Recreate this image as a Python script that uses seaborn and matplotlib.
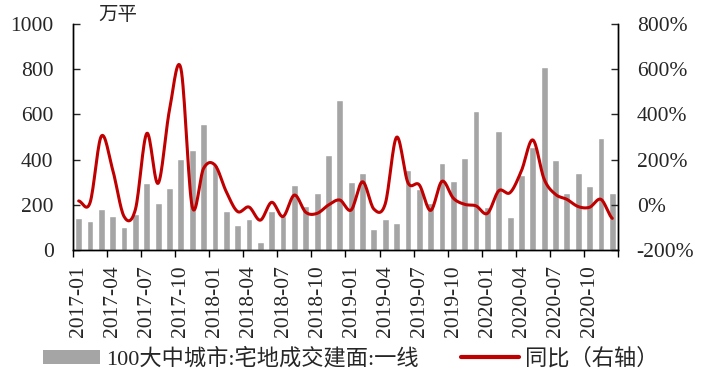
import numpy as np
import pandas as pd
import seaborn as sns
import matplotlib.pyplot as plt
from matplotlib.patches import Patch
from matplotlib.lines import Line2D
from matplotlib.ticker import FuncFormatter

sns.set_theme(style="ticks")
plt.rcParams['font.family'] = ['Liberation Serif', 'Noto Sans CJK SC', 'DejaVu Sans']
plt.rcParams['axes.unicode_minus'] = False

# 月份 2017-01 ~ 2020-12
months = [f"{y}-{m:02d}" for y in range(2017, 2021) for m in range(1, 13)]

# 100大中城市:宅地成交建面:一线 (万平)
area = [140, 128, 181, 150, 102, 158, 296, 208, 274, 403, 442, 557,
        375, 172, 111, 136, 34, 172, 150, 288, 195, 252, 420, 664,
        299, 339, 93, 137, 119, 353, 270, 208, 385, 304, 407, 615,
        190, 527, 145, 333, 457, 810, 398, 252, 341, 283, 496, 254]

# 同比 (%)
yoy = [17, 9, 304, 154, -52, -20, 316, 95, 420, 604, -8, 161,
       176, 58, -30, -10, -68, 11, -52, 43, -33, -38, -1, 21,
       -23, 102, -19, 4, 299, 98, 88, -25, 104, 29, 2, -5,
       -38, 62, 54, 151, 287, 113, 46, 24, -8, -11, 24, -60]

bar_label = '100大中城市:宅地成交建面:一线'
line_label = '同比（右轴）'
bar_color = '#A5A5A5'
line_color = '#C00000'


def smooth(y, n=16):
    # 平滑曲线（类似 Excel 的平滑线）
    y = np.asarray(y, float)
    p = np.concatenate([[y[0]], y, [y[-1]]])
    t = np.linspace(0, 1, n, endpoint=False)
    xs, ys = [], []
    for i in range(len(y) - 1):
        p0, p1, p2, p3 = p[i], p[i + 1], p[i + 2], p[i + 3]
        seg = 0.5 * (2 * p1 + (-p0 + p2) * t + (2 * p0 - 5 * p1 + 4 * p2 - p3) * t ** 2
                     + (-p0 + 3 * p1 - 3 * p2 + p3) * t ** 3)
        xs.append(i + t)
        ys.append(seg)
    xs.append([len(y) - 1])
    ys.append([y[-1]])
    return np.concatenate(xs), np.concatenate(ys)


df = pd.DataFrame({'month': months, 'area': area})

fig = plt.figure(figsize=(7.1, 3.84), dpi=100)
ax = fig.add_axes([0.1028, 0.349, 0.7676, 0.5885])

sns.barplot(data=df, x='month', y='area', color=bar_color, saturation=1,
            width=0.6, ax=ax)

ax2 = ax.twinx()
sx, sy = smooth(yoy)
sns.lineplot(x=sx, y=sy, ax=ax2, color=line_color, linewidth=2.2,
             sort=False, estimator=None)

ax.set_xlim(-0.5, len(months) - 0.5)
ax.set_ylim(0, 1000)
ax2.set_ylim(-200, 800)
ax.set_yticks(range(0, 1001, 200))
ax2.set_yticks(range(-200, 801, 200))
ax2.yaxis.set_major_formatter(FuncFormatter(lambda v, p: f'{v:.0f}%'))

ax.set_xticks(range(0, len(months), 3))
ax.set_xticklabels(months[::3], rotation=90)
ax.set_xticks(np.arange(-0.5, len(months), 3), minor=True)
ax.tick_params(axis='x', which='major', length=0, pad=11, labelsize=15.5)
ax.tick_params(axis='x', which='minor', length=5, width=1, direction='out', color='black')
ax.tick_params(axis='y', direction='in', length=5, width=1, pad=14, labelsize=15.5)
ax2.tick_params(axis='y', direction='in', length=5, width=1, pad=13.5, labelsize=15.5)

ax.set_xlabel('')
ax.set_ylabel('')
ax2.set_ylabel('')
for a in (ax, ax2):
    a.spines['top'].set_visible(False)
    for s in ('left', 'right', 'bottom'):
        a.spines[s].set_color('black')
        a.spines[s].set_linewidth(1)

fig.text(0.1655, 0.961, '万平', ha='center', va='center', fontsize=14,
         family=['Noto Sans CJK SC'])

handles = [Patch(facecolor=bar_color, edgecolor='none'),
           Line2D([], [], color=line_color, linewidth=3)]
fig.legend(handles, [bar_label, line_label], loc='center',
           bbox_to_anchor=(0.4937, 0.065), ncol=2, frameon=False,
           fontsize=16, handlelength=2.6, handleheight=0.63,
           handletextpad=0.27, columnspacing=1.9)

fig.savefig('out.png', dpi=100)
